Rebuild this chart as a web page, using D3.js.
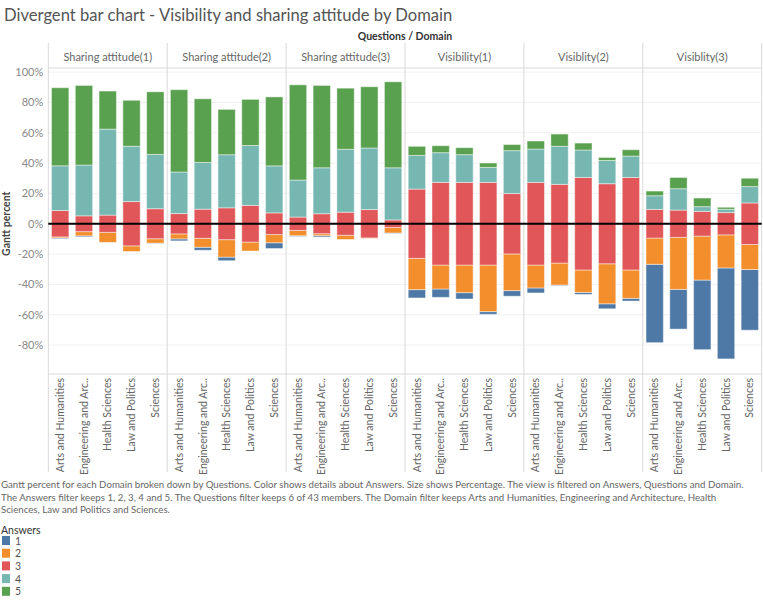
<!DOCTYPE html>
<html>
<head>
<meta charset="utf-8">
<script src="https://cdn.jsdelivr.net/npm/d3@7"></script>
<style>
  html, body { margin: 0; padding: 0; background: #fff; }
  svg { display: block; font-family: "Lato", "Open Sans", sans-serif; }
</style>
</head>
<body>
<svg id="chart" width="763" height="600"></svg>
<script>
// ---- data ----
const questions = ["Sharing attitude(1)", "Sharing attitude(2)", "Sharing attitude(3)", "Visibility(1)", "Visiblity(2)", "Visiblity(3)"];
const domains = ["Arts and Humanities", "Engineering and Architecture", "Health Sciences", "Law and Politics", "Sciences"];
const domainLabels = ["Arts and Humanities", "Engineering and Arc..", "Health Sciences", "Law and Politics", "Sciences"];
const answers = ["1", "2", "3", "4", "5"];
const answerColors = ["#4e79a7", "#f28e2b", "#e15759", "#76b7b2", "#59a14f"];
const yTicks = [-80, -60, -40, -20, 0, 20, 40, 60, 80, 100];
// percentages per answer, ordered question by question, domain by domain
const answer1 = [0.6, 0.7, 0, 0, 0.2,   1.3, 2.0, 2.4, 0, 3.8,   0.5, 0.9, 0, 0, 0.3,
                 5.5, 5.5, 4.2, 1.8, 3.7,   3.3, 0.4, 1.3, 3.3, 1.8,   51.7, 26.2, 45.9, 60.0, 40.0];
const answer2 = [0.7, 2.8, 6.6, 3.7, 2.9,   3.3, 5.9, 11.5, 5.9, 5.4,   3.5, 1.3, 2.8, 0.3, 3.6,
                 20.6, 15.8, 18.2, 30.7, 24.2,   15.1, 14.5, 14.8, 26.4, 18.7,   17.3, 34.3, 29.0, 21.8, 16.5];
const answer3 = [17.4, 10.4, 11.4, 29.2, 19.8,   13.4, 19.2, 21.0, 24.2, 14.3,   8.8, 13.2, 15.2, 18.7, 5.0,
                 45.7, 54.5, 54.5, 54.5, 39.8,   54.5, 51.9, 61.0, 52.8, 61.0,   18.9, 18.0, 16.3, 14.7, 27.4];
const answer4 = [29.5, 33.5, 56.7, 36.5, 35.8,   27.4, 30.8, 35.0, 39.5, 31.0,   24.4, 30.3, 41.5, 40.6, 34.4,
                 22.2, 19.6, 18.3, 9.9, 28.3,   22.0, 25.1, 18.1, 15.3, 14.1,   9.0, 14.1, 3.1, 2.2, 10.8];
const answer5 = [51.5, 52.5, 25.1, 30.3, 41.3,   54.3, 42.0, 29.9, 30.4, 45.5,   62.8, 54.3, 40.3, 40.4, 56.7,
                 6.0, 4.6, 4.6, 2.9, 4.0,   5.3, 8.1, 4.6, 2.0, 4.2,   3.1, 7.4, 5.7, 1.3, 5.5];
const answerValues = [answer1, answer2, answer3, answer4, answer5];

// ---- build segments (diverging: answer 3 centred on zero) ----
const segments = [];
questions.forEach((q, qi) => {
  domains.forEach((d, di) => {
    const i = qi * domains.length + di;
    const p = answerValues.map(a => a[i]);
    const half = p[2] / 2;
    const ranges = [
      [-half - p[1] - p[0], -half - p[1]],
      [-half - p[1], -half],
      [-half, half],
      [half, half + p[3]],
      [half + p[3], half + p[3] + p[4]]
    ];
    ranges.forEach((r, ai) => {
      if (p[ai] > 0) segments.push({ q, d, answer: answers[ai], ai, y0: r[0], y1: r[1] });
    });
  });
});

// ---- layout ----
const svg = d3.select("#chart");
const left = 48.3, right = 761.7;
const headerTop = 43, plotTop = 68, plotBottom = 374, labelBottom = 472;

const xQ = d3.scaleBand().domain(questions).range([left, right]);
const xD = d3.scaleBand().domain(domains).range([0, xQ.bandwidth()]).paddingInner(0.27).paddingOuter(0.135);
const y = d3.scaleLinear().domain([-99.1, 102.7]).range([plotBottom, plotTop]);
const color = d3.scaleOrdinal().domain(answers).range(answerColors);

// Title
svg.append("text").attr("x", 4).attr("y", 21)
  .attr("font-size", 16.6).attr("fill", "#555")
  .text("Divergent bar chart - Visibility and sharing attitude by Domain");

svg.append("text").attr("x", (left + right) / 2).attr("y", 40)
  .attr("text-anchor", "middle").attr("font-size", 10.5).attr("font-weight", "bold").attr("fill", "#333")
  .text("Questions / Domain");

// Gridlines
svg.append("g").selectAll("line").data(yTicks.filter(t => t !== 0)).join("line")
  .attr("x1", left).attr("x2", right)
  .attr("y1", d => y(d)).attr("y2", d => y(d))
  .attr("stroke", "#f0f0f0").attr("stroke-width", 1);

// Panel borders
const borderColor = "#d9d9d9";
const panelEdges = questions.map(q => xQ(q)).concat([right]);
svg.append("g").selectAll("line").data(panelEdges).join("line")
  .attr("x1", d => d).attr("x2", d => d)
  .attr("y1", headerTop).attr("y2", labelBottom)
  .attr("stroke", borderColor).attr("stroke-width", 1);
svg.append("line").attr("x1", left).attr("x2", right).attr("y1", plotTop).attr("y2", plotTop)
  .attr("stroke", borderColor);
svg.append("line").attr("x1", left).attr("x2", right).attr("y1", plotBottom).attr("y2", plotBottom)
  .attr("stroke", borderColor);

// Panel headers
svg.append("g").selectAll("text").data(questions).join("text")
  .attr("x", d => xQ(d) + xQ.bandwidth() / 2).attr("y", 61)
  .attr("text-anchor", "middle").attr("font-size", 11).attr("fill", "#666")
  .text(d => d);

// Bars
svg.append("g").selectAll("rect").data(segments).join("rect")
  .attr("x", d => xQ(d.q) + xD(d.d))
  .attr("width", xD.bandwidth())
  .attr("y", d => y(d.y1))
  .attr("height", d => Math.max(0, y(d.y0) - y(d.y1)))
  .attr("fill", d => color(d.answer))
  .attr("stroke", "rgba(255,255,255,0.45)").attr("stroke-width", 1);

// Zero line
svg.append("line").attr("x1", left).attr("x2", right).attr("y1", y(0)).attr("y2", y(0))
  .attr("stroke", "#000").attr("stroke-width", 2);

// Y axis
const yAxis = svg.append("g").attr("transform", `translate(${left},0)`)
  .call(d3.axisLeft(y).tickValues(yTicks).tickFormat(d => d + "%").tickSize(0).tickPadding(5));
yAxis.select(".domain").remove();
yAxis.selectAll("text").attr("font-size", 11).attr("fill", "#888").attr("font-family", "Lato, sans-serif");

svg.append("text").attr("transform", `translate(10,${y(0)}) rotate(-90)`)
  .attr("text-anchor", "middle").attr("font-size", 10.5).attr("font-weight", "bold").attr("fill", "#444")
  .text("Gantt percent");

// X axis labels (per panel)
questions.forEach(q => {
  const ax = svg.append("g").attr("transform", `translate(${xQ(q)},${plotBottom})`)
    .call(d3.axisBottom(xD).tickSize(0).tickFormat((d, i) => domainLabels[i]));
  ax.select(".domain").remove();
  ax.selectAll("text")
    .attr("font-size", 10.5).attr("fill", "#666").attr("font-family", "Lato, sans-serif")
    .attr("text-anchor", "end")
    .attr("transform", "rotate(-90)")
    .attr("x", -4).attr("y", 0).attr("dy", "0.35em");
});

// Caption
const caption = [
  "Gantt percent for each Domain broken down by Questions.  Color shows details about Answers.  Size shows Percentage. The view is filtered on Answers, Questions and Domain.",
  "The Answers filter keeps 1, 2, 3, 4 and 5. The Questions filter keeps 6 of 43 members. The Domain filter keeps Arts and Humanities, Engineering and Architecture, Health",
  "Sciences, Law and Politics and Sciences."
];
svg.append("g").selectAll("text").data(caption).join("text")
  .attr("x", 1).attr("y", (d, i) => 488 + i * 12.6)
  .attr("font-size", 9.7).attr("fill", "#666")
  .text(d => d);

// Legend
svg.append("text").attr("x", 1).attr("y", 534).attr("font-size", 10.5).attr("fill", "#333").text("Answers");
const lg = svg.append("g").selectAll("g").data(answers).join("g")
  .attr("transform", (d, i) => `translate(2,${536 + i * 12.7})`);
lg.append("rect").attr("width", 8).attr("height", 9).attr("fill", d => color(d));
lg.append("text").attr("x", 13).attr("y", 8.5).attr("font-size", 10.5).attr("fill", "#555").text(d => d);
</script>
</body>
</html>
